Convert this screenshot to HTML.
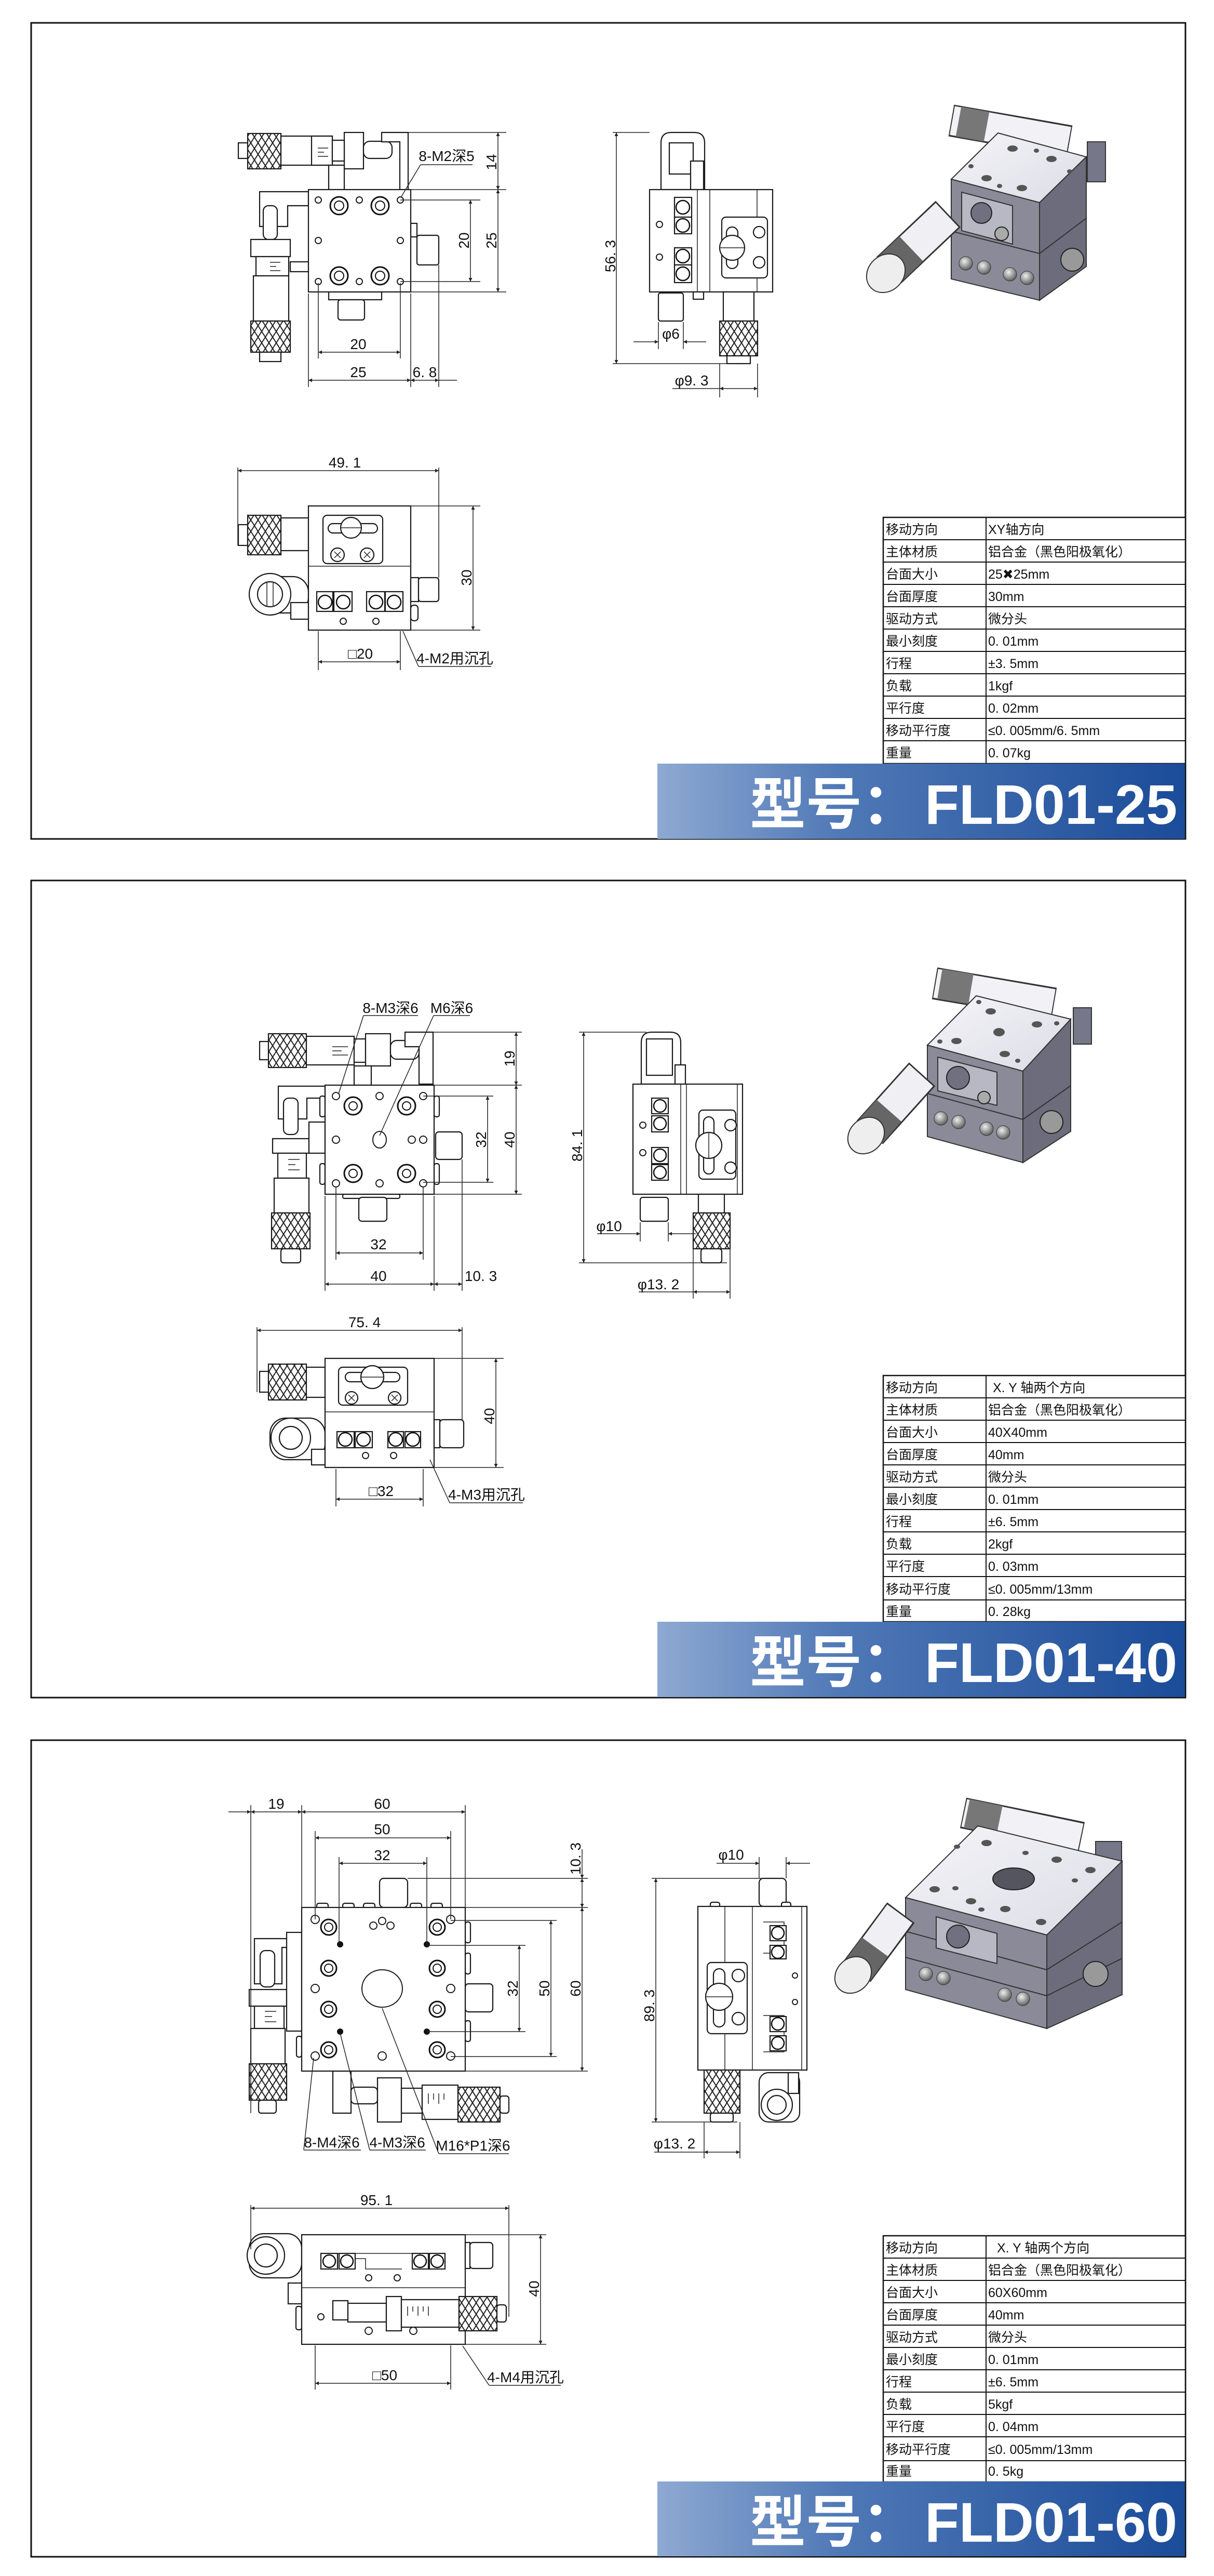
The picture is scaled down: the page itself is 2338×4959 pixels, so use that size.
<!DOCTYPE html>
<html><head><meta charset="utf-8"><style>
html,body{margin:0;padding:0;background:#fff}
svg{display:block}
.o{fill:#fff;stroke:#1a1a1a;stroke-width:2.2}
.g{fill:#fff;stroke:#1a1a1a;stroke-width:1.6}
.d{stroke:#222;stroke-width:1.5;fill:none}
.dm{stroke:#222;stroke-width:1.5;fill:none;marker-start:url(#a);marker-end:url(#a)}
.kn{fill:url(#k);stroke:#1a1a1a;stroke-width:2.2}
.t{font-family:"Liberation Sans Narrow","Liberation Sans","Noto Sans CJK SC",sans-serif;font-size:28px;fill:#111}
.tc{font-family:"Liberation Sans Narrow","Liberation Sans","Noto Sans CJK SC",sans-serif;font-size:25px;fill:#111}
.bt{font-family:"Liberation Sans","Noto Sans CJK SC",sans-serif;font-weight:bold;font-size:108px;fill:#fff}
.h{fill:#fff;stroke:#1a1a1a;stroke-width:2}
.dk{fill:#2a2a2a}
</style></head><body>
<svg width="2338" height="4959" viewBox="0 0 2338 4959" xmlns="http://www.w3.org/2000/svg">
<defs>
<marker id="a" viewBox="0 0 10 10" refX="10" refY="5" markerWidth="18" markerHeight="7" markerUnits="userSpaceOnUse" orient="auto-start-reverse"><path d="M0,0L10,5L0,10z" fill="#222"/></marker>
<pattern id="k" width="14" height="22" patternUnits="userSpaceOnUse"><rect width="14" height="22" fill="#fff"/><path d="M0,0L14,22M14,0L0,22" stroke="#222" stroke-width="2"/></pattern>
<linearGradient id="bg" x1="0" x2="1" y1="0" y2="0"><stop offset="0" stop-color="#8ea9d2"/><stop offset="0.35" stop-color="#4f78b6"/><stop offset="1" stop-color="#1b4c99"/></linearGradient>
<linearGradient id="tf" x1="0" x2="1" y1="0" y2="1"><stop offset="0" stop-color="#f4f4f8"/><stop offset="1" stop-color="#dcdce6"/></linearGradient>
<radialGradient id="ball" cx="0.4" cy="0.35" r="0.7"><stop offset="0" stop-color="#eee"/><stop offset="1" stop-color="#555"/></radialGradient>
</defs>

<rect x="60" y="44" width="2223" height="1571" fill="none" stroke="#111" stroke-width="3"/>
<rect x="60" y="1695" width="2223" height="1573" fill="none" stroke="#111" stroke-width="3"/>
<rect x="60" y="3350" width="2223" height="1572" fill="none" stroke="#111" stroke-width="3"/>

<!-- ================= PANEL 1 ================= -->
<g>
<rect class="o" x="459" y="275" width="18" height="30"/>
<rect class="kn" x="477" y="257" width="64" height="68"/>
<rect class="o" x="541" y="262" width="99" height="56"/>
<rect class="o" x="600" y="262" width="40" height="56"/>
<path class="d" d="M612,285h20M612,293h12M612,301h20"/>
<rect class="o" x="663" y="255" width="37" height="70"/>
<rect class="o" x="640" y="270" width="23" height="40"/>
<rect class="o" x="700" y="272" width="55" height="33" rx="12"/>
<path class="o" d="M735,255h51v110h-16v-92h-35z"/>
<rect class="o" x="633" y="318" width="30" height="47"/>
<path class="o" d="M500,369h94v27h-40v40h-54z"/>
<rect class="o" x="507" y="396" width="27" height="65" rx="10"/>
<rect class="o" x="483" y="461" width="76" height="33"/>
<rect class="o" x="493" y="494" width="63" height="37"/>
<path class="d" d="M520,505h20M520,513h12M520,521h20"/>
<rect class="o" x="488" y="531" width="68" height="87"/>
<rect class="kn" x="483" y="618" width="76" height="60"/>
<rect class="o" x="500" y="678" width="41" height="18"/>
<rect class="o" x="559" y="504" width="35" height="19"/>
<rect class="o" x="633" y="562" width="102" height="15"/>
<rect class="o" x="651" y="577" width="51" height="39" rx="5"/>
<rect class="o" x="791" y="430" width="12" height="26"/>
<rect class="o" x="803" y="453" width="42" height="57" rx="4"/>
<rect class="o" x="594" y="365" width="197" height="197"/>
<circle class="h" cx="613" cy="385" r="6"/><circle class="h" cx="692" cy="385" r="6"/><circle class="h" cx="771" cy="385" r="6"/>
<circle class="h" cx="613" cy="463" r="6"/><circle class="h" cx="771" cy="463" r="6"/>
<circle class="h" cx="613" cy="542" r="6"/><circle class="h" cx="692" cy="542" r="6"/><circle class="h" cx="771" cy="542" r="6"/>
<g fill="#fff" stroke="#111" stroke-width="3">
<circle cx="653" cy="396" r="17"/><circle cx="732" cy="396" r="17"/><circle cx="653" cy="531" r="17"/><circle cx="732" cy="531" r="17"/>
</g>
<g fill="none" stroke="#111" stroke-width="2">
<circle cx="653" cy="396" r="9"/><circle cx="732" cy="396" r="9"/><circle cx="653" cy="531" r="9"/><circle cx="732" cy="531" r="9"/>
</g>
<path class="d" d="M786,255H975M791,365H975M791,562H975M771,385H925M771,542H925M613,545V690M771,545V690M594,565V745M791,565V745M845,510V745"/>
<line class="dm" x1="959" y1="255" x2="959" y2="365"/>
<line class="dm" x1="959" y1="365" x2="959" y2="562"/>
<line class="dm" x1="906" y1="385" x2="906" y2="542"/>
<line class="dm" x1="613" y1="678" x2="771" y2="678"/>
<line class="dm" x1="594" y1="732" x2="791" y2="732"/>
<line class="dm" x1="791" y1="732" x2="845" y2="732"/>
<line class="d" x1="845" y1="732" x2="880" y2="732"/>
<text class="t" text-anchor="middle" transform="translate(956,312) rotate(-90)">14</text>
<text class="t" text-anchor="middle" transform="translate(956,463) rotate(-90)">25</text>
<text class="t" text-anchor="middle" transform="translate(903,463) rotate(-90)">20</text>
<text class="t" x="690" y="672" text-anchor="middle">20</text>
<text class="t" x="690" y="726" text-anchor="middle">25</text>
<text class="t" x="818" y="726" text-anchor="middle">6. 8</text>
<text class="t" x="860" y="310" text-anchor="middle">8-M2深5</text>
<path class="d" d="M810,317H910M810,317L772,380"/>
</g>
<g>
<path class="o" d="M1273,365V275q0,-20 20,-20h44q20,0 20,20v90z"/>
<rect class="o" x="1289" y="275" width="46" height="60"/>
<rect class="o" x="1330" y="310" width="25" height="55"/>
<rect class="o" x="1251" y="365" width="237" height="197"/>
<path class="d" d="M1343,365V562M1367,365V562M1458,365V562"/>
<g class="o"><rect x="1299" y="380" width="33" height="38"/><rect x="1299" y="418" width="33" height="32"/><rect x="1299" y="477" width="33" height="33"/><rect x="1299" y="510" width="33" height="34"/></g>
<g fill="none" stroke="#111" stroke-width="2.5"><circle cx="1315" cy="399" r="13"/><circle cx="1315" cy="434" r="13"/><circle cx="1315" cy="493" r="13"/><circle cx="1315" cy="527" r="13"/></g>
<circle class="h" cx="1270" cy="432" r="6"/><circle class="h" cx="1270" cy="495" r="6"/>
<rect class="o" x="1390" y="418" width="88" height="117" rx="8"/>
<rect class="o" x="1399" y="437" width="22" height="80" rx="11"/>
<circle class="o" cx="1410" cy="477" r="24"/><path class="d" d="M1386,477h48"/>
<circle class="o" cx="1462" cy="447" r="11"/><circle class="o" cx="1462" cy="505" r="11"/>
<rect class="o" x="1268" y="564" width="48" height="54" rx="4"/>
<rect class="o" x="1335" y="562" width="20" height="14"/>
<rect class="o" x="1393" y="562" width="59" height="56"/>
<rect class="kn" x="1386" y="618" width="73" height="67"/>
<rect class="o" x="1400" y="685" width="45" height="15"/>
<path class="d" d="M1251,255H1180M1180,700H1400M1268,620V672M1316,620V672M1386,700V765M1459,700V765"/>
<line class="dm" x1="1187" y1="255" x2="1187" y2="700"/>
<line class="d" x1="1220" y1="658" x2="1268" y2="658" marker-end="url(#a)"/>
<line class="d" x1="1360" y1="658" x2="1316" y2="658" marker-end="url(#a)"/>
<line class="dm" x1="1386" y1="748" x2="1459" y2="748"/>
<line class="d" x1="1295" y1="748" x2="1386" y2="748"/>
<text class="t" text-anchor="middle" transform="translate(1185,493) rotate(-90)">56. 3</text>
<text class="t" x="1292" y="652" text-anchor="middle">φ6</text>
<text class="t" x="1332" y="742" text-anchor="middle">φ9. 3</text>
</g>
<g>
<rect class="o" x="459" y="1010" width="18" height="40"/>
<rect class="kn" x="477" y="992" width="64" height="76"/>
<rect class="o" x="541" y="997" width="53" height="63"/>
<rect class="o" x="487" y="1110" width="107" height="70" rx="30"/>
<circle class="o" cx="520" cy="1144" r="40"/><circle class="o" cx="520" cy="1144" r="24"/><path class="d" d="M514,1122v44M526,1122v44"/>
<rect class="o" x="560" y="1160" width="34" height="32"/>
<rect class="o" x="594" y="974" width="197" height="239"/>
<line class="d" x1="594" y1="1090" x2="791" y2="1090"/>
<rect class="o" x="622" y="992" width="115" height="93" rx="8"/>
<rect class="o" x="632" y="1008" width="95" height="18" rx="9"/>
<circle class="o" cx="676" cy="1016" r="20"/><path class="d" d="M656,1016h40"/>
<circle class="o" cx="650" cy="1068" r="13"/><circle class="o" cx="707" cy="1068" r="13"/>
<path class="d" d="M644,1062l12,12M656,1062l-12,12M701,1062l12,12M713,1062l-12,12"/>
<rect class="o" x="791" y="1112" width="15" height="46"/><rect class="o" x="806" y="1112" width="39" height="46" rx="5"/>
<rect class="o" x="791" y="1165" width="14" height="30" rx="6"/>
<g class="o"><rect x="610" y="1139" width="31" height="38"/><rect x="643" y="1139" width="35" height="38"/><rect x="706" y="1139" width="35" height="38"/><rect x="742" y="1139" width="34" height="38"/></g>
<g fill="none" stroke="#111" stroke-width="2.5"><circle cx="626" cy="1159" r="13"/><circle cx="661" cy="1159" r="13"/><circle cx="724" cy="1159" r="13"/><circle cx="759" cy="1159" r="13"/></g>
<circle class="h" cx="661" cy="1196" r="6"/><circle class="h" cx="724" cy="1196" r="6"/>
<path class="d" d="M458,900V1050M845,900V1112M791,974H925M791,1213H925M613,1215V1290M771,1215V1290"/>
<line class="dm" x1="458" y1="906" x2="845" y2="906"/>
<line class="dm" x1="911" y1="974" x2="911" y2="1213"/>
<line class="dm" x1="613" y1="1274" x2="771" y2="1274"/>
<text class="t" x="664" y="900" text-anchor="middle">49. 1</text>
<text class="t" text-anchor="middle" transform="translate(908,1112) rotate(-90)">30</text>
<text class="t" x="694" y="1268" text-anchor="middle">□20</text>
<text class="t" x="876" y="1277" text-anchor="middle">4-M2用沉孔</text>
<path class="d" d="M806,1283H946M806,1283L776,1215"/>
</g>
<g>
<line x1="1832" y1="232" x2="2060" y2="272" stroke="#333" stroke-width="62"/>
<line x1="1834" y1="232" x2="2058" y2="272" stroke="#f2f2f6" stroke-width="56"/>
<line x1="1846" y1="234" x2="1900" y2="244" stroke="#777" stroke-width="58"/>
<rect x="2094" y="273" width="35" height="77" fill="#77778a" stroke="#333" stroke-width="2"/>
<polygon points="1922,256 2092,302 2002,390 1832,345" fill="url(#tf)" stroke="#333" stroke-width="2"/>
<polygon points="1832,345 2002,390 2002,578 1832,537" fill="#8a8a98" stroke="#333" stroke-width="2"/>
<polygon points="2092,302 2092,513 2002,578 2002,390" fill="#6c6c7c" stroke="#333" stroke-width="2"/>
<path d="M1832,445L2002,488L2092,420" stroke="#333" stroke-width="2" fill="none"/>
<polygon points="1852,370 1950,396 1950,470 1852,444" fill="#b8b8c4" stroke="#333" stroke-width="2"/>
<circle cx="1890" cy="410" r="20" fill="#707080" stroke="#222" stroke-width="2"/>
<circle cx="1929" cy="450" r="13" fill="#aaa" stroke="#222" stroke-width="2"/>
<g fill="url(#ball)" stroke="#333"><circle cx="1860" cy="507" r="13"/><circle cx="1895" cy="515" r="13"/><circle cx="1945" cy="528" r="13"/><circle cx="1978" cy="535" r="13"/></g>
<circle cx="2065" cy="500" r="22" fill="#999" stroke="#222" stroke-width="2"/>
<g fill="#555"><ellipse cx="1950" cy="286" rx="10" ry="6"/><ellipse cx="2025" cy="306" rx="10" ry="6"/><ellipse cx="1900" cy="343" rx="10" ry="6"/><ellipse cx="1968" cy="362" rx="10" ry="6"/><ellipse cx="1870" cy="320" rx="5" ry="4"/><ellipse cx="2060" cy="330" rx="5" ry="4"/><ellipse cx="1996" cy="290" rx="5" ry="4"/><ellipse cx="1925" cy="358" rx="5" ry="4"/></g>
<line x1="1826" y1="412" x2="1712" y2="520" stroke="#333" stroke-width="70"/>
<line x1="1824" y1="414" x2="1714" y2="518" stroke="#f0f0f4" stroke-width="64"/>
<line x1="1755" y1="479" x2="1712" y2="520" stroke="#666" stroke-width="66"/>
<ellipse cx="1706" cy="526" rx="34" ry="40" transform="rotate(45 1706 526)" fill="#eee" stroke="#333" stroke-width="2"/>
</g>
<g>
<rect x="1701" y="996" width="582" height="474" fill="#fff" stroke="#111" stroke-width="2.5"/>
<line x1="1899" y1="996" x2="1899" y2="1470" stroke="#111" stroke-width="2"/>
<g stroke="#111" stroke-width="2"><line x1="1701" y1="1039" x2="2283" y2="1039"/><line x1="1701" y1="1082" x2="2283" y2="1082"/><line x1="1701" y1="1125" x2="2283" y2="1125"/><line x1="1701" y1="1168" x2="2283" y2="1168"/><line x1="1701" y1="1211" x2="2283" y2="1211"/><line x1="1701" y1="1254" x2="2283" y2="1254"/><line x1="1701" y1="1297" x2="2283" y2="1297"/><line x1="1701" y1="1340" x2="2283" y2="1340"/><line x1="1701" y1="1383" x2="2283" y2="1383"/><line x1="1701" y1="1426" x2="2283" y2="1426"/></g>
<g class="tc">
<text x="1706" y="1028">移动方向</text><text x="1903" y="1028">XY轴方向</text>
<text x="1706" y="1071">主体材质</text><text x="1903" y="1071">铝合金（黑色阳极氧化）</text>
<text x="1706" y="1114">台面大小</text><text x="1903" y="1114">25✖25mm</text>
<text x="1706" y="1157">台面厚度</text><text x="1903" y="1157">30mm</text>
<text x="1706" y="1200">驱动方式</text><text x="1903" y="1200">微分头</text>
<text x="1706" y="1243">最小刻度</text><text x="1903" y="1243">0. 01mm</text>
<text x="1706" y="1286">行程</text><text x="1903" y="1286">±3. 5mm</text>
<text x="1706" y="1329">负载</text><text x="1903" y="1329">1kgf</text>
<text x="1706" y="1372">平行度</text><text x="1903" y="1372">0. 02mm</text>
<text x="1706" y="1415">移动平行度</text><text x="1903" y="1415">≤0. 005mm/6. 5mm</text>
<text x="1706" y="1458">重量</text><text x="1903" y="1458">0. 07kg</text>
</g>
<rect x="1266" y="1470" width="1016" height="145" fill="url(#bg)"/>
<text class="bt" x="1768" y="1586" text-anchor="end" font-family="Noto Sans CJK SC, sans-serif">型号：</text>
<text class="bt" x="1781" y="1586">FLD01-25</text>
</g>

<!-- ================= PANEL 2 ================= -->
<g>
<rect class="o" x="500" y="2005" width="17" height="35"/>
<rect class="kn" x="517" y="1990" width="73" height="65"/>
<rect class="o" x="590" y="1995" width="92" height="55"/>
<path class="d" d="M640,2015h30M640,2023h18M640,2031h30"/>
<rect class="o" x="682" y="2000" width="22" height="45"/>
<rect class="o" x="704" y="1990" width="48" height="62"/>
<rect class="o" x="752" y="2003" width="55" height="36" rx="12"/>
<path class="o" d="M780,1987h54v100h-27v-72h-27z"/>
<rect class="o" x="682" y="2052" width="33" height="37"/>
<path class="o" d="M536,2091h90v23h-35v40h-55z"/>
<rect class="o" x="546" y="2114" width="28" height="70" rx="10"/>
<rect class="o" x="525" y="2192" width="70" height="28"/>
<rect class="o" x="535" y="2220" width="55" height="48"/>
<path class="d" d="M555,2232h22M555,2242h14M555,2252h22"/>
<rect class="o" x="528" y="2268" width="67" height="67"/>
<rect class="kn" x="523" y="2335" width="74" height="69"/>
<rect class="o" x="541" y="2404" width="38" height="27" rx="5"/>
<rect class="o" x="595" y="2160" width="31" height="60"/>
<rect class="o" x="839" y="2179" width="51" height="53" rx="6"/>
<rect class="o" x="836" y="2110" width="10" height="40" rx="4"/><rect class="o" x="836" y="2240" width="10" height="40" rx="4"/>
<rect class="o" x="616" y="2110" width="10" height="40" rx="4"/><rect class="o" x="616" y="2240" width="10" height="40" rx="4"/>
<rect class="o" x="660" y="2299" width="110" height="8" rx="3"/>
<rect class="o" x="691" y="2305" width="54" height="46" rx="6"/>
<rect class="o" x="626" y="2089" width="210" height="210"/>
<g class="h"><circle cx="647" cy="2110" r="7"/><circle cx="731" cy="2110" r="7"/><circle cx="815" cy="2110" r="7"/><circle cx="647" cy="2194" r="7"/><circle cx="793" cy="2194" r="7"/><circle cx="815" cy="2194" r="7"/><circle cx="647" cy="2278" r="7"/><circle cx="731" cy="2278" r="7"/><circle cx="815" cy="2278" r="7"/></g>
<ellipse class="h" cx="731" cy="2194" rx="13" ry="16"/>
<g fill="#fff" stroke="#111" stroke-width="3"><circle cx="680" cy="2129" r="17"/><circle cx="783" cy="2129" r="17"/><circle cx="680" cy="2259" r="17"/><circle cx="783" cy="2259" r="17"/></g>
<g fill="none" stroke="#111" stroke-width="2"><circle cx="680" cy="2129" r="8"/><circle cx="783" cy="2129" r="8"/><circle cx="680" cy="2259" r="8"/><circle cx="783" cy="2259" r="8"/></g>
<path class="d" d="M834,1987H1005M836,2089H1005M836,2299H1005M815,2110H950M815,2276H950M647,2285V2425M815,2285V2425M626,2302V2485M836,2302V2485M890,2232V2485"/>
<line class="dm" x1="994" y1="1987" x2="994" y2="2089"/>
<line class="dm" x1="994" y1="2089" x2="994" y2="2299"/>
<line class="dm" x1="939" y1="2110" x2="939" y2="2276"/>
<line class="dm" x1="647" y1="2412" x2="815" y2="2412"/>
<line class="dm" x1="626" y1="2472" x2="836" y2="2472"/>
<line class="dm" x1="836" y1="2472" x2="890" y2="2472"/>
<text class="t" text-anchor="middle" transform="translate(991,2038) rotate(-90)">19</text>
<text class="t" text-anchor="middle" transform="translate(991,2194) rotate(-90)">40</text>
<text class="t" text-anchor="middle" transform="translate(936,2194) rotate(-90)">32</text>
<text class="t" x="729" y="2405" text-anchor="middle">32</text>
<text class="t" x="729" y="2466" text-anchor="middle">40</text>
<text class="t" x="926" y="2466" text-anchor="middle">10. 3</text>
<text class="t" x="752" y="1950" text-anchor="middle">8-M3深6</text>
<text class="t" x="870" y="1950" text-anchor="middle">M6深6</text>
<path class="d" d="M700,1955H805M700,1955L652,2106M835,1955H905M835,1955L731,2186"/>
</g>
<g>
<path class="o" d="M1235,2087V2007q0,-20 20,-20h36q20,0 20,20v80z"/>
<rect class="o" x="1245" y="2000" width="50" height="70"/>
<rect class="o" x="1300" y="2050" width="20" height="37"/>
<rect class="o" x="1219" y="2087" width="211" height="212"/>
<path class="d" d="M1311,2087V2299M1322,2087V2299M1420,2087V2299"/>
<g class="o"><rect x="1255" y="2114" width="32" height="30"/><rect x="1255" y="2148" width="32" height="31"/><rect x="1255" y="2209" width="32" height="31"/><rect x="1255" y="2242" width="32" height="30"/></g>
<g fill="none" stroke="#111" stroke-width="2.5"><circle cx="1271" cy="2129" r="12"/><circle cx="1271" cy="2163" r="12"/><circle cx="1271" cy="2224" r="12"/><circle cx="1271" cy="2257" r="12"/></g>
<circle class="h" cx="1238" cy="2166" r="6"/><circle class="h" cx="1238" cy="2219" r="6"/>
<rect class="o" x="1346" y="2137" width="71" height="133" rx="8"/>
<rect class="o" x="1355" y="2150" width="20" height="110" rx="10"/>
<circle class="o" cx="1365" cy="2205" r="25"/><path class="d" d="M1365,2180v50"/>
<circle class="o" cx="1407" cy="2166" r="11"/><circle class="o" cx="1407" cy="2248" r="11"/>
<rect class="o" x="1233" y="2305" width="54" height="46" rx="5"/>
<rect class="o" x="1345" y="2299" width="50" height="36"/>
<rect class="kn" x="1335" y="2335" width="71" height="69"/>
<rect class="o" x="1350" y="2404" width="40" height="27" rx="5"/>
<path class="d" d="M1115,1987H1245M1115,2431H1400M1233,2353V2390M1287,2353V2390M1335,2404V2500M1406,2404V2500"/>
<line class="dm" x1="1124" y1="1987" x2="1124" y2="2431"/>
<line class="d" x1="1150" y1="2375" x2="1233" y2="2375" marker-end="url(#a)"/>
<line class="d" x1="1340" y1="2375" x2="1287" y2="2375" marker-end="url(#a)"/>
<line class="dm" x1="1335" y1="2487" x2="1406" y2="2487"/>
<line class="d" x1="1230" y1="2487" x2="1335" y2="2487"/>
<text class="t" text-anchor="middle" transform="translate(1121,2205) rotate(-90)">84. 1</text>
<text class="t" x="1173" y="2370" text-anchor="middle">φ10</text>
<text class="t" x="1268" y="2482" text-anchor="middle">φ13. 2</text>
</g>
<g>
<rect class="o" x="500" y="2640" width="17" height="40"/>
<rect class="kn" x="517" y="2626" width="73" height="69"/>
<rect class="o" x="590" y="2632" width="36" height="58"/>
<rect class="o" x="520" y="2730" width="106" height="80" rx="30"/>
<circle class="o" cx="560" cy="2768" r="38"/><circle class="o" cx="560" cy="2768" r="22"/>
<rect class="o" x="600" y="2790" width="26" height="30"/>
<rect class="o" x="626" y="2615" width="210" height="210"/>
<line class="d" x1="626" y1="2718" x2="836" y2="2718"/>
<rect class="o" x="652" y="2632" width="133" height="73" rx="8"/>
<rect class="o" x="665" y="2642" width="105" height="18" rx="9"/>
<circle class="o" cx="717" cy="2651" r="22"/><path class="d" d="M695,2651h44"/>
<circle class="o" cx="677" cy="2691" r="12"/><circle class="o" cx="760" cy="2691" r="12"/>
<path class="d" d="M671,2685l12,12M683,2685l-12,12M754,2685l12,12M766,2685l-12,12"/>
<rect class="o" x="836" y="2733" width="11" height="54"/><rect class="o" x="847" y="2733" width="46" height="54" rx="6"/>
<g class="o"><rect x="649" y="2756" width="33" height="31"/><rect x="684" y="2756" width="33" height="31"/><rect x="747" y="2756" width="30" height="31"/><rect x="780" y="2756" width="30" height="31"/></g>
<g fill="none" stroke="#111" stroke-width="2.5"><circle cx="665" cy="2771" r="13"/><circle cx="700" cy="2771" r="13"/><circle cx="762" cy="2771" r="13"/><circle cx="795" cy="2771" r="13"/></g>
<circle class="h" cx="704" cy="2802" r="6"/><circle class="h" cx="758" cy="2802" r="6"/>
<path class="d" d="M495,2555V2680M890,2555V2735M836,2615H970M836,2825H970M647,2828V2900M815,2828V2900"/>
<line class="dm" x1="495" y1="2561" x2="890" y2="2561"/>
<line class="dm" x1="955" y1="2615" x2="955" y2="2825"/>
<line class="dm" x1="647" y1="2886" x2="815" y2="2886"/>
<text class="t" x="702" y="2555" text-anchor="middle">75. 4</text>
<text class="t" text-anchor="middle" transform="translate(952,2726) rotate(-90)">40</text>
<text class="t" x="734" y="2880" text-anchor="middle">□32</text>
<text class="t" x="937" y="2887" text-anchor="middle">4-M3用沉孔</text>
<path class="d" d="M866,2893H1007M866,2893L828,2810"/>
</g>
<g>
<line x1="1800" y1="1893" x2="2030" y2="1932" stroke="#333" stroke-width="62"/>
<line x1="1802" y1="1893" x2="2028" y2="1932" stroke="#f2f2f6" stroke-width="56"/>
<line x1="1810" y1="1894" x2="1870" y2="1904" stroke="#777" stroke-width="58"/>
<rect x="2067" y="1940" width="35" height="70" fill="#77778a" stroke="#333" stroke-width="2"/>
<polygon points="1880,1917 2062,1962 1970,2062 1786,2012" fill="url(#tf)" stroke="#333" stroke-width="2"/>
<polygon points="1786,2012 1970,2062 1970,2238 1786,2188" fill="#8a8a98" stroke="#333" stroke-width="2"/>
<polygon points="2062,1962 2062,2178 1970,2238 1970,2062" fill="#6c6c7c" stroke="#333" stroke-width="2"/>
<path d="M1786,2105L1970,2155L2062,2090" stroke="#333" stroke-width="2" fill="none"/>
<polygon points="1806,2035 1920,2064 1920,2128 1806,2100" fill="#b8b8c4" stroke="#333" stroke-width="2"/>
<circle cx="1845" cy="2075" r="22" fill="#707080" stroke="#222" stroke-width="2"/>
<circle cx="1895" cy="2113" r="12" fill="#aaa" stroke="#222" stroke-width="2"/>
<g fill="url(#ball)" stroke="#333"><circle cx="1812" cy="2153" r="13"/><circle cx="1846" cy="2160" r="13"/><circle cx="1900" cy="2173" r="13"/><circle cx="1932" cy="2180" r="13"/></g>
<circle cx="2025" cy="2160" r="22" fill="#999" stroke="#222" stroke-width="2"/>
<g fill="#555"><ellipse cx="1908" cy="1947" rx="10" ry="6"/><ellipse cx="1997" cy="1972" rx="10" ry="6"/><ellipse cx="1842" cy="2004" rx="10" ry="6"/><ellipse cx="1935" cy="2029" rx="10" ry="6"/><ellipse cx="1924" cy="1987" rx="11" ry="8"/><ellipse cx="1885" cy="1929" rx="5" ry="4"/><ellipse cx="2035" cy="1970" rx="5" ry="4"/><ellipse cx="1810" cy="2005" rx="5" ry="4"/><ellipse cx="1960" cy="2042" rx="5" ry="4"/></g>
<line x1="1776" y1="2068" x2="1675" y2="2180" stroke="#333" stroke-width="68"/>
<line x1="1774" y1="2070" x2="1677" y2="2178" stroke="#f0f0f4" stroke-width="62"/>
<line x1="1712" y1="2138" x2="1675" y2="2180" stroke="#666" stroke-width="64"/>
<ellipse cx="1668" cy="2186" rx="32" ry="38" transform="rotate(45 1668 2186)" fill="#eee" stroke="#333" stroke-width="2"/>
</g>
<g>
<rect x="1701" y="2648" width="582" height="474" fill="#fff" stroke="#111" stroke-width="2.5"/>
<line x1="1899" y1="2648" x2="1899" y2="3122" stroke="#111" stroke-width="2"/>
<g stroke="#111" stroke-width="2"><line x1="1701" y1="2691" x2="2283" y2="2691"/><line x1="1701" y1="2734" x2="2283" y2="2734"/><line x1="1701" y1="2777" x2="2283" y2="2777"/><line x1="1701" y1="2820" x2="2283" y2="2820"/><line x1="1701" y1="2863" x2="2283" y2="2863"/><line x1="1701" y1="2906" x2="2283" y2="2906"/><line x1="1701" y1="2949" x2="2283" y2="2949"/><line x1="1701" y1="2992" x2="2283" y2="2992"/><line x1="1701" y1="3035" x2="2283" y2="3035"/><line x1="1701" y1="3080" x2="2283" y2="3080"/></g>
<g class="tc">
<text x="1706" y="2680">移动方向</text><text x="1912" y="2680">X. Y  轴两个方向</text>
<text x="1706" y="2723">主体材质</text><text x="1903" y="2723">铝合金（黑色阳极氧化）</text>
<text x="1706" y="2766">台面大小</text><text x="1903" y="2766">40X40mm</text>
<text x="1706" y="2809">台面厚度</text><text x="1903" y="2809">40mm</text>
<text x="1706" y="2852">驱动方式</text><text x="1903" y="2852">微分头</text>
<text x="1706" y="2895">最小刻度</text><text x="1903" y="2895">0. 01mm</text>
<text x="1706" y="2938">行程</text><text x="1903" y="2938">±6. 5mm</text>
<text x="1706" y="2981">负载</text><text x="1903" y="2981">2kgf</text>
<text x="1706" y="3024">平行度</text><text x="1903" y="3024">0. 03mm</text>
<text x="1706" y="3068">移动平行度</text><text x="1903" y="3068">≤0. 005mm/13mm</text>
<text x="1706" y="3111">重量</text><text x="1903" y="3111">0. 28kg</text>
</g>
<rect x="1266" y="3122" width="1016" height="145" fill="url(#bg)"/>
<text class="bt" x="1768" y="3238" text-anchor="end" font-family="Noto Sans CJK SC, sans-serif">型号：</text>
<text class="bt" x="1781" y="3238">FLD01-40</text>
</g>

<!-- ================= PANEL 3 ================= -->
<g>
<rect class="o" x="731" y="3616" width="54" height="56" rx="8"/>
<g class="o"><rect x="610" y="3664" width="22" height="10" rx="4"/><rect x="660" y="3664" width="22" height="10" rx="4"/><rect x="700" y="3664" width="22" height="10" rx="4"/><rect x="790" y="3664" width="22" height="10" rx="4"/><rect x="830" y="3664" width="22" height="10" rx="4"/></g>
<path class="o" d="M490,3732h88v17h-35v70h-53z"/>
<rect class="o" x="501" y="3755" width="28" height="70" rx="10"/>
<rect class="o" x="480" y="3830" width="72" height="32"/>
<rect class="o" x="490" y="3862" width="57" height="43"/>
<path class="d" d="M510,3872h22M510,3882h14M510,3892h22"/>
<rect class="o" x="483" y="3905" width="66" height="68"/>
<rect class="kn" x="480" y="3973" width="72" height="70"/>
<rect class="o" x="498" y="4043" width="34" height="25" rx="5"/>
<rect class="o" x="552" y="3720" width="29" height="190"/>
<path class="o" d="M641,3987h35v81h-35z"/>
<rect class="o" x="676" y="4018" width="51" height="32" rx="8"/>
<rect class="o" x="727" y="4000" width="46" height="85"/>
<rect class="o" x="773" y="4020" width="40" height="48"/>
<rect class="o" x="813" y="4014" width="69" height="66"/>
<path class="d" d="M825,4030v20M835,4030v12M845,4030v20M855,4030v12"/>
<rect class="kn" x="882" y="4018" width="81" height="67"/>
<rect class="o" x="963" y="4035" width="17" height="33" rx="5"/>
<rect class="o" x="896" y="3819" width="53" height="54" rx="6"/>
<g class="o"><rect x="896" y="3700" width="10" height="40" rx="4"/><rect x="896" y="3760" width="10" height="40" rx="4"/><rect x="896" y="3890" width="10" height="40" rx="4"/><rect x="571" y="3920" width="10" height="40" rx="4"/></g>
<rect class="o" x="581" y="3672" width="315" height="315"/>
<g class="h"><circle cx="607" cy="3695" r="8"/><circle cx="868" cy="3695" r="8"/><circle cx="607" cy="3828" r="8"/><circle cx="868" cy="3828" r="8"/><circle cx="607" cy="3958" r="8"/><circle cx="868" cy="3958" r="8"/><circle cx="736" cy="3958" r="8"/><circle cx="719" cy="3707" r="7"/><circle cx="736" cy="3698" r="7"/><circle cx="752" cy="3707" r="7"/></g>
<g fill="#fff" stroke="#111" stroke-width="3"><circle cx="633" cy="3710" r="15"/><circle cx="842" cy="3710" r="15"/><circle cx="633" cy="3789" r="15"/><circle cx="842" cy="3789" r="15"/><circle cx="633" cy="3868" r="15"/><circle cx="842" cy="3868" r="15"/><circle cx="633" cy="3946" r="15"/><circle cx="842" cy="3946" r="15"/></g>
<g fill="none" stroke="#111" stroke-width="2"><circle cx="633" cy="3710" r="8"/><circle cx="842" cy="3710" r="8"/><circle cx="633" cy="3789" r="8"/><circle cx="842" cy="3789" r="8"/><circle cx="633" cy="3868" r="8"/><circle cx="842" cy="3868" r="8"/><circle cx="633" cy="3946" r="8"/><circle cx="842" cy="3946" r="8"/></g>
<g fill="#111"><circle cx="655" cy="3743" r="6"/><circle cx="822" cy="3743" r="6"/><circle cx="655" cy="3911" r="6"/><circle cx="822" cy="3911" r="6"/></g>
<ellipse class="h" cx="736" cy="3828" rx="39" ry="36"/>
<path class="d" d="M483,3475V4068M581,3475V3672M896,3475V3672M607,3525V3695M868,3525V3695M653,3575V3743M822,3575V3743M785,3616H1132M896,3672H1132M896,3987H1132M868,3697H1072M868,3959H1072M822,3745H1012M822,3911H1012"/>
<line class="d" x1="440" y1="3488" x2="483" y2="3488" marker-end="url(#a)"/>
<line class="dm" x1="483" y1="3488" x2="581" y2="3488"/>
<line class="dm" x1="581" y1="3488" x2="896" y2="3488"/>
<line class="dm" x1="607" y1="3538" x2="868" y2="3538"/>
<line class="dm" x1="653" y1="3587" x2="822" y2="3587"/>
<line class="d" x1="1121" y1="3560" x2="1121" y2="3616" marker-end="url(#a)"/>
<line class="dm" x1="1121" y1="3616" x2="1121" y2="3672"/>
<line class="dm" x1="1121" y1="3672" x2="1121" y2="3987"/>
<line class="dm" x1="1061" y1="3697" x2="1061" y2="3959"/>
<line class="dm" x1="1000" y1="3745" x2="1000" y2="3911"/>
<text class="t" x="532" y="3482" text-anchor="middle">19</text>
<text class="t" x="736" y="3482" text-anchor="middle">60</text>
<text class="t" x="736" y="3531" text-anchor="middle">50</text>
<text class="t" x="736" y="3581" text-anchor="middle">32</text>
<text class="t" text-anchor="middle" transform="translate(1118,3578) rotate(-90)">10. 3</text>
<text class="t" text-anchor="middle" transform="translate(1118,3828) rotate(-90)">60</text>
<text class="t" text-anchor="middle" transform="translate(1058,3828) rotate(-90)">50</text>
<text class="t" text-anchor="middle" transform="translate(997,3828) rotate(-90)">32</text>
<text class="t" x="639" y="4134" text-anchor="middle">8-M4深6</text>
<text class="t" x="765" y="4134" text-anchor="middle">4-M3深6</text>
<text class="t" x="911" y="4140" text-anchor="middle">M16*P1深6</text>
<path class="d" d="M585,4139H695M585,4139L604,3962M712,4139H820M712,4139L655,3914M845,4146H980M845,4146L736,3866"/>
</g>
<g>
<rect class="o" x="1462" y="3616" width="52" height="54" rx="8"/>
<g class="o"><rect x="1368" y="3662" width="18" height="10" rx="4"/><rect x="1505" y="3662" width="18" height="10" rx="4"/></g>
<rect class="o" x="1344" y="3670" width="210" height="315"/>
<path class="d" d="M1396,3670V3985M1449,3670V3985M1544,3670V3985"/>
<path class="d" d="M1470,3700h40v60h-40M1470,3880h40v70h-40"/>
<rect class="o" x="1362" y="3778" width="77" height="137" rx="8"/>
<rect class="o" x="1374" y="3790" width="22" height="112" rx="11"/>
<circle class="o" cx="1385" cy="3844" r="26"/><path class="d" d="M1359,3844h52"/>
<circle class="o" cx="1422" cy="3803" r="12"/><circle class="o" cx="1422" cy="3886" r="12"/>
<g class="o"><rect x="1483" y="3707" width="31" height="29"/><rect x="1483" y="3745" width="31" height="26"/><rect x="1483" y="3882" width="31" height="29"/><rect x="1483" y="3919" width="31" height="29"/></g>
<g fill="none" stroke="#111" stroke-width="2.5"><circle cx="1498" cy="3721" r="12"/><circle cx="1498" cy="3758" r="12"/><circle cx="1498" cy="3896" r="12"/><circle cx="1498" cy="3933" r="12"/></g>
<circle class="h" cx="1531" cy="3803" r="5"/><circle class="h" cx="1531" cy="3854" r="5"/>
<rect class="kn" x="1356" y="3985" width="69" height="83"/>
<rect class="o" x="1368" y="4068" width="44" height="17" rx="4"/>
<rect class="o" x="1462" y="3990" width="78" height="95" rx="18"/>
<circle class="o" cx="1496" cy="4052" r="30"/><circle class="o" cx="1496" cy="4052" r="18"/>
<rect class="o" x="1518" y="3990" width="20" height="40"/>
<path class="d" d="M1255,3616H1470M1255,4085H1420M1462,3575V3616M1514,3575V3616M1356,4085V4155M1425,4085V4155"/>
<line class="dm" x1="1263" y1="3616" x2="1263" y2="4085"/>
<line class="d" x1="1380" y1="3587" x2="1462" y2="3587" marker-end="url(#a)"/>
<line class="d" x1="1560" y1="3587" x2="1514" y2="3587" marker-end="url(#a)"/>
<line class="dm" x1="1356" y1="4143" x2="1425" y2="4143"/>
<line class="d" x1="1260" y1="4143" x2="1356" y2="4143"/>
<text class="t" text-anchor="middle" transform="translate(1260,3861) rotate(-90)">89. 3</text>
<text class="t" x="1408" y="3580" text-anchor="middle">φ10</text>
<text class="t" x="1299" y="4136" text-anchor="middle">φ13. 2</text>
</g>
<g>
<rect class="o" x="480" y="4300" width="101" height="85" rx="28"/>
<circle class="o" cx="512" cy="4342" r="36"/><circle class="o" cx="512" cy="4342" r="22"/>
<rect class="o" x="555" y="4395" width="26" height="40"/>
<rect class="o" x="570" y="4440" width="11" height="45" rx="4"/>
<rect class="o" x="581" y="4302" width="315" height="211"/>
<line class="d" x1="581" y1="4404" x2="896" y2="4404"/>
<path class="d" d="M650,4338h144M684,4348h20v20h70"/>
<g class="o"><rect x="618" y="4338" width="32" height="30"/><rect x="653" y="4338" width="31" height="30"/><rect x="794" y="4338" width="31" height="30"/><rect x="827" y="4338" width="30" height="30"/></g>
<g fill="none" stroke="#111" stroke-width="2.5"><circle cx="634" cy="4353" r="12"/><circle cx="668" cy="4353" r="12"/><circle cx="809" cy="4353" r="12"/><circle cx="842" cy="4353" r="12"/></g>
<circle class="h" cx="710" cy="4385" r="6"/><circle class="h" cx="765" cy="4385" r="6"/>
<rect class="o" x="896" y="4317" width="9" height="50"/><rect class="o" x="905" y="4317" width="44" height="50" rx="6"/>
<rect class="o" x="641" y="4429" width="29" height="37"/>
<rect class="o" x="670" y="4434" width="74" height="36"/>
<rect class="o" x="744" y="4421" width="29" height="66"/>
<rect class="o" x="773" y="4427" width="111" height="53"/>
<path class="d" d="M785,4440v18M795,4440v10M805,4440v18M815,4440v10M825,4440v18"/>
<rect class="kn" x="884" y="4421" width="73" height="66"/>
<rect class="o" x="957" y="4437" width="18" height="33" rx="5"/>
<circle class="h" cx="618" cy="4460" r="6"/><circle class="h" cx="710" cy="4487" r="7"/><circle class="h" cx="796" cy="4487" r="7"/>
<path class="d" d="M483,4245V4330M980,4245V4460M896,4302H1052M896,4513H1052M607,4515V4600M868,4515V4600"/>
<line class="dm" x1="483" y1="4251" x2="980" y2="4251"/>
<line class="dm" x1="1041" y1="4302" x2="1041" y2="4513"/>
<line class="dm" x1="607" y1="4588" x2="868" y2="4588"/>
<text class="t" x="725" y="4245" text-anchor="middle">95. 1</text>
<text class="t" text-anchor="middle" transform="translate(1038,4406) rotate(-90)">40</text>
<text class="t" x="741" y="4582" text-anchor="middle">□50</text>
<text class="t" x="1012" y="4586" text-anchor="middle">4-M4用沉孔</text>
<path class="d" d="M942,4592H1080M942,4592L891,4516"/>
</g>
<g>
<line x1="1855" y1="3490" x2="2083" y2="3537" stroke="#333" stroke-width="60"/>
<line x1="1857" y1="3490" x2="2081" y2="3537" stroke="#f2f2f6" stroke-width="54"/>
<line x1="1862" y1="3491" x2="1925" y2="3504" stroke="#777" stroke-width="56"/>
<rect x="2110" y="3545" width="50" height="50" fill="#77778a" stroke="#333" stroke-width="2"/>
<polygon points="1883,3515 2161,3583 2016,3725 1744,3653" fill="url(#tf)" stroke="#333" stroke-width="2"/>
<polygon points="1744,3653 2016,3725 2016,3905 1744,3830" fill="#8a8a98" stroke="#333" stroke-width="2"/>
<polygon points="2161,3583 2161,3840 2016,3905 2016,3725" fill="#6c6c7c" stroke="#333" stroke-width="2"/>
<path d="M1744,3718L2016,3792L2161,3700M1744,3768L2016,3842L2161,3770" stroke="#333" stroke-width="2" fill="none"/>
<polygon points="1803,3690 1920,3722 1920,3780 1803,3750" fill="#b8b8c4" stroke="#333" stroke-width="2"/>
<circle cx="1845" cy="3728" r="22" fill="#707080" stroke="#222" stroke-width="2"/>
<g fill="url(#ball)" stroke="#333"><circle cx="1783" cy="3800" r="13"/><circle cx="1817" cy="3808" r="13"/><circle cx="1935" cy="3840" r="13"/><circle cx="1970" cy="3848" r="13"/></g>
<circle cx="2110" cy="3800" r="24" fill="#999" stroke="#222" stroke-width="2"/>
<ellipse cx="1952" cy="3617" rx="40" ry="21" fill="#55555f" stroke="#222" stroke-width="2"/>
<g fill="#555"><ellipse cx="1900" cy="3548" rx="10" ry="6"/><ellipse cx="2035" cy="3580" rx="10" ry="6"/><ellipse cx="2100" cy="3600" rx="10" ry="6"/><ellipse cx="1800" cy="3637" rx="10" ry="6"/><ellipse cx="1870" cy="3660" rx="10" ry="6"/><ellipse cx="1936" cy="3675" rx="10" ry="6"/><ellipse cx="2005" cy="3700" rx="10" ry="6"/><ellipse cx="1843" cy="3555" rx="6" ry="4"/><ellipse cx="1975" cy="3567" rx="6" ry="4"/><ellipse cx="1840" cy="3635" rx="6" ry="4"/><ellipse cx="2070" cy="3620" rx="6" ry="4"/><ellipse cx="1890" cy="3676" rx="6" ry="4"/></g>
<line x1="1735" y1="3682" x2="1650" y2="3796" stroke="#333" stroke-width="66"/>
<line x1="1733" y1="3684" x2="1652" y2="3794" stroke="#f0f0f4" stroke-width="60"/>
<line x1="1685" y1="3748" x2="1650" y2="3796" stroke="#666" stroke-width="62"/>
<ellipse cx="1643" cy="3802" rx="32" ry="38" transform="rotate(45 1643 3802)" fill="#eee" stroke="#333" stroke-width="2"/>
</g>
<g>
<rect x="1701" y="4304" width="582" height="474" fill="#fff" stroke="#111" stroke-width="2.5"/>
<line x1="1899" y1="4304" x2="1899" y2="4778" stroke="#111" stroke-width="2"/>
<g stroke="#111" stroke-width="2"><line x1="1701" y1="4347" x2="2283" y2="4347"/><line x1="1701" y1="4390" x2="2283" y2="4390"/><line x1="1701" y1="4433" x2="2283" y2="4433"/><line x1="1701" y1="4476" x2="2283" y2="4476"/><line x1="1701" y1="4519" x2="2283" y2="4519"/><line x1="1701" y1="4562" x2="2283" y2="4562"/><line x1="1701" y1="4605" x2="2283" y2="4605"/><line x1="1701" y1="4648" x2="2283" y2="4648"/><line x1="1701" y1="4691" x2="2283" y2="4691"/><line x1="1701" y1="4737" x2="2283" y2="4737"/></g>
<g class="tc">
<text x="1706" y="4336">移动方向</text><text x="1920" y="4336">X.  Y  轴两个方向</text>
<text x="1706" y="4379">主体材质</text><text x="1903" y="4379">铝合金（黑色阳极氧化）</text>
<text x="1706" y="4422">台面大小</text><text x="1903" y="4422">60X60mm</text>
<text x="1706" y="4465">台面厚度</text><text x="1903" y="4465">40mm</text>
<text x="1706" y="4508">驱动方式</text><text x="1903" y="4508">微分头</text>
<text x="1706" y="4551">最小刻度</text><text x="1903" y="4551">0. 01mm</text>
<text x="1706" y="4594">行程</text><text x="1903" y="4594">±6. 5mm</text>
<text x="1706" y="4637">负载</text><text x="1903" y="4637">5kgf</text>
<text x="1706" y="4680">平行度</text><text x="1903" y="4680">0. 04mm</text>
<text x="1706" y="4724">移动平行度</text><text x="1903" y="4724">≤0. 005mm/13mm</text>
<text x="1706" y="4766">重量</text><text x="1903" y="4766">0. 5kg</text>
</g>
<rect x="1266" y="4777" width="1016" height="144" fill="url(#bg)"/>
<text class="bt" x="1768" y="4893" text-anchor="end" font-family="Noto Sans CJK SC, sans-serif">型号：</text>
<text class="bt" x="1781" y="4893">FLD01-60</text>
</g>
</svg>
</body></html>
